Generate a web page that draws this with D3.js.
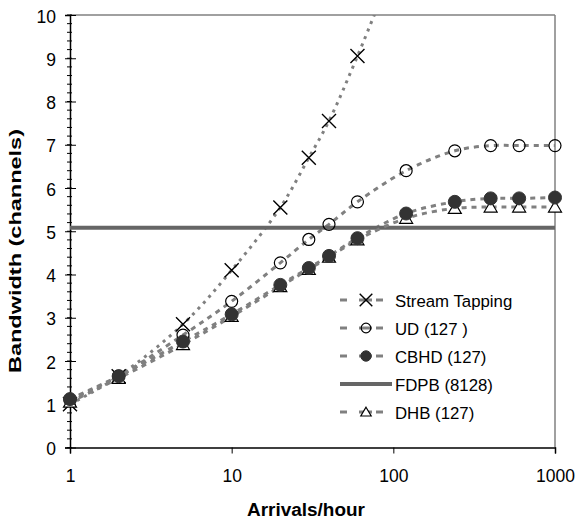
<!DOCTYPE html>
<html>
<head>
<meta charset="utf-8">
<title>Bandwidth vs arrivals</title>
<script src="https://cdn.jsdelivr.net/npm/d3@7"></script>
<style>
body { margin: 0; background: #fff; }
text { font-family: "Liberation Sans", Arial, sans-serif; }
</style>
</head>
<body>
<svg id="chart"></svg>
<script>
// arrival rates (x) and bandwidth per protocol (y)
var arrivals = [1, 2, 5, 10, 20, 30, 40, 60, 120, 240, 400, 600, 1000];
var tapArrivals = [1, 2, 5, 10, 20, 30, 40, 60, 100];
var streamTapping = [1.0, 1.65, 2.85, 4.1, 5.55, 6.7, 7.55, 9.05, 11.1];
var ud = [1.1, 1.65, 2.6, 3.38, 4.27, 4.81, 5.16, 5.68, 6.4, 6.86, 6.98, 6.98, 6.98];
var cbhd = [1.12, 1.65, 2.45, 3.08, 3.76, 4.15, 4.43, 4.84, 5.41, 5.68, 5.76, 5.76, 5.78];
var dhb = [1.05, 1.6, 2.38, 3.03, 3.72, 4.12, 4.4, 4.8, 5.3, 5.53, 5.56, 5.56, 5.56];
var fdpb = 5.08;
var xTicks = [1, 10, 100, 1000];
var yTicks = [0, 1, 2, 3, 4, 5, 6, 7, 8, 9, 10];

var W = 576, H = 520;
var L = 70, R = 555, T = 15, B = 447.5;

var svg = d3.select("#chart").attr("width", W).attr("height", H);

var x = d3.scaleLog().domain([1, 1000]).range([L, R]);
var y = d3.scaleLinear().domain([0, 10]).range([B, T]);

svg.append("defs").append("clipPath").attr("id", "clip")
  .append("rect").attr("x", L - 10).attr("y", T).attr("width", R - L + 20).attr("height", B - T + 10);

// frame (top and right)
svg.append("line").attr("x1", L).attr("x2", R).attr("y1", T).attr("y2", T)
  .attr("stroke", "#808080").attr("stroke-width", 1.5);
svg.append("line").attr("x1", R).attr("x2", R).attr("y1", T).attr("y2", B)
  .attr("stroke", "#808080").attr("stroke-width", 1.5);

// y axis with minor ticks
var minor = d3.range(0, 10.01, 0.2);
svg.append("g").selectAll("line").data(minor).enter().append("line")
  .attr("x1", L - 3).attr("x2", L + 2)
  .attr("y1", function(d) { return y(d); }).attr("y2", function(d) { return y(d); })
  .attr("stroke", "#000").attr("stroke-width", 1);

var yAxis = svg.append("g").attr("transform", "translate(" + L + ",0)")
  .call(d3.axisLeft(y).tickValues(yTicks).tickSize(5).tickFormat(d3.format("d")));
yAxis.select(".domain").attr("stroke", "#000").attr("stroke-width", 1.5);
yAxis.selectAll(".tick line").attr("x2", 6).attr("x1", -5).attr("stroke-width", 1);
yAxis.selectAll(".tick text").attr("font-size", 17.5).attr("x", -14).attr("dy", "0.4em")
  .style("font-family", "'Liberation Sans', Arial, sans-serif");

var xAxis = svg.append("g").attr("transform", "translate(0," + B + ")")
  .call(d3.axisBottom(x).tickValues(xTicks).tickSize(6).tickFormat(d3.format("d")));
xAxis.select(".domain").attr("stroke", "#000").attr("stroke-width", 1.5);
xAxis.selectAll(".tick text").attr("font-size", 17.5).attr("y", 34).attr("dy", 0)
  .style("font-family", "'Liberation Sans', Arial, sans-serif");

// axis titles
svg.append("text").attr("x", 306).attr("y", 516).attr("text-anchor", "middle")
  .attr("font-size", 18).attr("font-weight", "bold")
  .attr("textLength", 118).attr("lengthAdjust", "spacingAndGlyphs").text("Arrivals/hour");
svg.append("text").attr("transform", "translate(21,251) rotate(-90)")
  .attr("text-anchor", "middle").attr("font-size", 16).attr("font-weight", "bold")
  .attr("textLength", 244).attr("lengthAdjust", "spacingAndGlyphs")
  .text("Bandwidth (channels)");

var grey = "#808080";
var line = d3.line().curve(d3.curveCatmullRom.alpha(0.5))
  .x(function(d) { return x(d[0]); }).y(function(d) { return y(d[1]); });

function pairs(xs, ys) { return xs.map(function(v, i) { return [v, ys[i]]; }); }

var plot = svg.append("g").attr("clip-path", "url(#clip)");

var series = [
  { name: "Stream Tapping", xs: tapArrivals, ys: streamTapping, dash: "3,5", marker: "x", order: 0 },
  { name: "UD (127 )", xs: arrivals, ys: ud, dash: "5,5", marker: "circle", order: 1 },
  { name: "CBHD (127)", xs: arrivals, ys: cbhd, dash: "5,5", marker: "dot", order: 3 },
  { name: "FDPB (8128)", xs: [1, 1000], ys: [fdpb, fdpb], dash: null, marker: null, order: 4 },
  { name: "DHB (127)", xs: arrivals, ys: dhb, dash: "5,5", marker: "tri", order: 2 }
];

function drawMarker(g, type, cx, cy, s) {
  s = s || 1;
  if (type === "x") {
    var a = 7 * s;
    g.append("path").attr("d", "M" + (cx - a) + "," + (cy - a) + "L" + (cx + a) + "," + (cy + a) +
      "M" + (cx - a) + "," + (cy + a) + "L" + (cx + a) + "," + (cy - a))
      .attr("stroke", "#000").attr("stroke-width", 1.4).attr("fill", "none");
  } else if (type === "circle") {
    g.append("circle").attr("cx", cx).attr("cy", cy).attr("r", 6 * s)
      .attr("fill", "none").attr("stroke", "#000").attr("stroke-width", 1.2);
  } else if (type === "dot") {
    g.append("circle").attr("cx", cx).attr("cy", cy).attr("r", 6.5 * s)
      .attr("fill", "#333").attr("stroke", "#333").attr("stroke-width", 1);
  } else if (type === "tri") {
    g.append("path").attr("d", "M" + cx + "," + (cy - 6 * s) + "L" + (cx + 6.5 * s) + "," + (cy + 5 * s) +
      "L" + (cx - 6.5 * s) + "," + (cy + 5 * s) + "Z")
      .attr("fill", "#fff").attr("stroke", "#000").attr("stroke-width", 1.2);
  }
}

// lines first, then markers
series.forEach(function(s) {
  var p = plot.append("path").datum(pairs(s.xs, s.ys))
    .attr("d", line).attr("fill", "none").attr("stroke", s.dash ? grey : "#666")
    .attr("stroke-width", s.dash ? 3 : 4);
  if (s.dash) p.attr("stroke-dasharray", s.dash);
});
series.slice().sort(function(a, b) { return a.order - b.order; }).forEach(function(s) {
  if (!s.marker) return;
  var g = plot.append("g");
  pairs(s.xs, s.ys).forEach(function(d) {
    if (d[1] <= 10) drawMarker(g, s.marker, x(d[0]), y(d[1]));
  });
});

// legend
var legY = [300, 328, 356, 384, 412];
var lg = svg.append("g");
series.forEach(function(s, i) {
  var yy = legY[i];
  if (s.marker) {
    [[340, 347], [359, 372], [376, 383]].forEach(function(seg) {
      lg.append("line").attr("x1", seg[0]).attr("x2", seg[1]).attr("y1", yy).attr("y2", yy)
        .attr("stroke", grey).attr("stroke-width", 3);
    });
    drawMarker(lg, s.marker, 366, yy, s.marker === "x" ? 0.9 : 0.8);
  } else {
    lg.append("line").attr("x1", 340).attr("x2", 392).attr("y1", yy).attr("y2", yy)
      .attr("stroke", "#666").attr("stroke-width", 4);
  }
  lg.append("text").attr("x", 395).attr("y", yy + 6.5).attr("font-size", 16.8)
    .text(s.name);
});
</script>
</body>
</html>
